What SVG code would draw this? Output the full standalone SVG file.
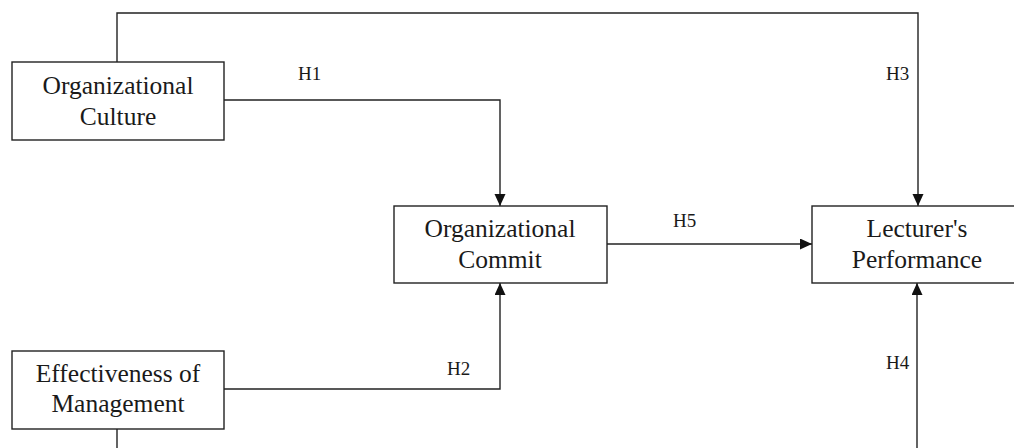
<svg xmlns="http://www.w3.org/2000/svg" width="1014" height="448" viewBox="0 0 1014 448">
<style>
.box{fill:#fff;stroke:#222;stroke-width:1.4}
.t{font-family:'Liberation Serif','Times New Roman',serif;font-size:25.5px;fill:#1a1a1a;text-anchor:middle}
.lbl{font-family:'Liberation Serif','Times New Roman',serif;font-size:19px;fill:#1a1a1a}
.c{fill:none;stroke:#222;stroke-width:1.4}
</style>
<defs>
<marker id="ah" markerUnits="userSpaceOnUse" markerWidth="13" markerHeight="12" refX="12" refY="5.5" orient="auto">
<path d="M0,0 L12,5.5 L0,11 z" fill="#111"/>
</marker>
</defs>
<rect width="1014" height="448" fill="#fff"/>
<g id="connectors">
<path class="c" d="M117,62 V13 H918 V206" marker-end="url(#ah)"/>
<path class="c" d="M224,100 H500 V206" marker-end="url(#ah)"/>
<path class="c" d="M224,389 H500 V283" marker-end="url(#ah)"/>
<path class="c" d="M607,244 H812" marker-end="url(#ah)"/>
<path class="c" d="M917,448 V283" marker-end="url(#ah)"/>
<path class="c" d="M117,429 V448"/>
<text class="lbl" x="298" y="80">H1</text>
<text class="lbl" x="447" y="375">H2</text>
<text class="lbl" x="886" y="80">H3</text>
<text class="lbl" x="886" y="369">H4</text>
<text class="lbl" x="673" y="227">H5</text>
</g>
<g id="org-culture">
<rect class="box" x="12" y="62" width="212" height="78"/>
<text class="t" x="118" y="94">Organizational</text>
<text class="t" x="118" y="125">Culture</text>
</g>
<g id="org-commit">
<rect class="box" x="394" y="206" width="213" height="77"/>
<text class="t" x="500" y="237">Organizational</text>
<text class="t" x="500" y="268">Commit</text>
</g>
<g id="lecturer-performance">
<rect class="box" x="812" y="206" width="212" height="77"/>
<text class="t" x="917" y="237">Lecturer's</text>
<text class="t" x="917" y="268">Performance</text>
</g>
<g id="effectiveness">
<rect class="box" x="12" y="351" width="212" height="78"/>
<text class="t" x="118" y="382">Effectiveness of</text>
<text class="t" x="118" y="412">Management</text>
</g>
</svg>
